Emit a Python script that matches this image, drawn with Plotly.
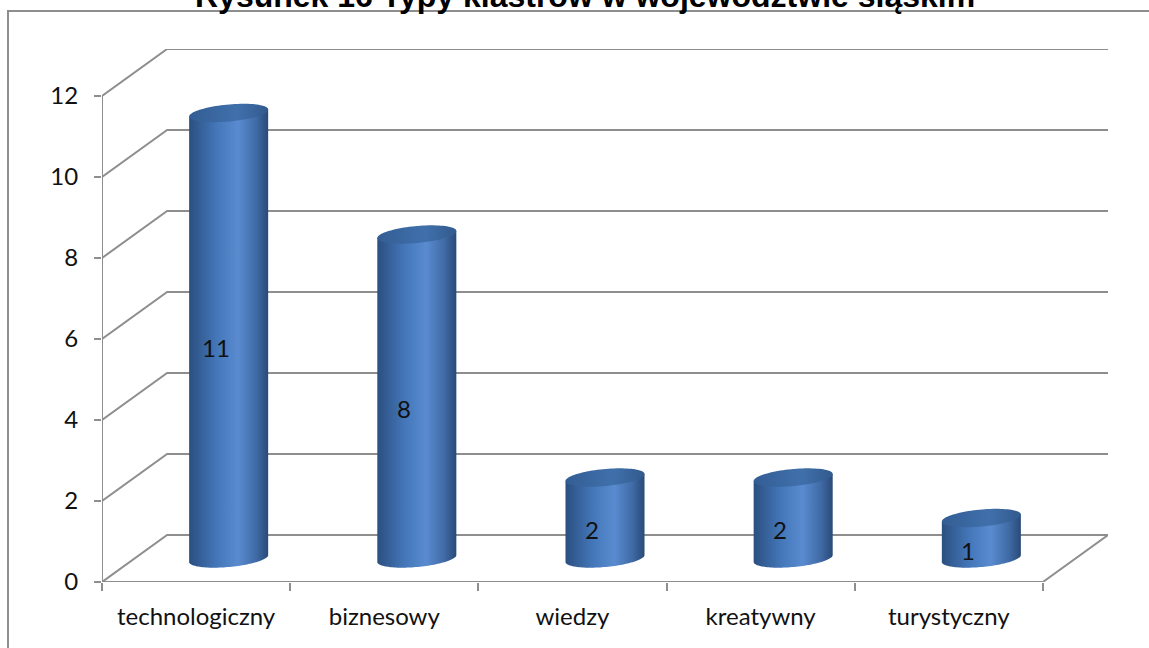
import numpy as np
import plotly.graph_objects as go

# --- chart data ---------------------------------------------------------
categories = ["technologiczny", "biznesowy", "wiedzy", "kreatywny", "turystyczny"]
counts = [11, 8, 2, 2, 1]
y_ticks = [0, 2, 4, 6, 8, 10, 12]
title_text = "Rysunek 16 Typy klastrów w województwie śląskim"

# --- pseudo-3D geometry (axis units) ------------------------------------
DEPTH_X = 0.346      # horizontal shift of the back wall (category units)
DEPTH_Y = 1.16       # vertical shift of the back wall (value units)
CYL_A = 0.21         # cylinder half width (category units)
CYL_B = 0.21         # ellipse vertical semi-axis (value units)
CYL_K = 0.086        # perspective shear of the ellipses (value units)

GRID = "#8e8e8e"
FONT = "Lato"
n = len(categories)
y_max = y_ticks[-1]

fig = go.Figure()
shapes = []

# back wall gridlines: short diagonal from the front axis, then horizontal
for v in y_ticks[1:]:
    shapes.append(dict(type="path", layer="below",
                       path=f"M 0,{v} L {DEPTH_X},{v + DEPTH_Y} L {n + DEPTH_X},{v + DEPTH_Y}",
                       line=dict(color=GRID, width=2)))

# floor outline
shapes.append(dict(type="path", layer="below",
                   path=f"M 0,0 L {DEPTH_X},{DEPTH_Y} L {n + DEPTH_X},{DEPTH_Y} L {n},0",
                   line=dict(color=GRID, width=2)))
# front axes
shapes.append(dict(type="line", layer="below", x0=0, y0=0, x1=n, y1=0,
                   line=dict(color=GRID, width=2)))
shapes.append(dict(type="line", layer="below", x0=0, y0=0, x1=0, y1=y_max,
                   line=dict(color=GRID, width=2)))

# outer chart frame (left and top edges visible)
shapes.append(dict(type="rect", xref="paper", yref="paper",
                   x0=(8 - 102) / 1006, x1=1.2, y0=-0.3, y1=(582 - 11) / 533,
                   line=dict(color=GRID, width=2), fillcolor="rgba(0,0,0,0)", layer="below"))


def ellipse(cx, cy, t):
    return cx + CYL_A * np.cos(t), cy + CYL_B * np.sin(t) + CYL_K * np.cos(t)


body_scale = [[0, "#2b4f80"], [0.35, "#4477ba"], [0.62, "#5a8bd0"], [0.85, "#3f6aa5"], [1, "#2a4a77"]]
top_scale = [[0, "#335d94"], [0.6, "#4070ab"], [1, "#325a8e"]]

annotations = []
for i, (cat, val) in enumerate(zip(categories, counts)):
    cx = i + 0.5 + DEPTH_X / 2
    base = DEPTH_Y / 2
    top = val + DEPTH_Y / 2

    # cylinder body: left side, lower arc of the base, right side
    t = np.linspace(np.pi, 2 * np.pi, 60)
    bx, by = ellipse(cx, base, t)
    xs = [cx - CYL_A] + list(bx) + [cx + CYL_A, cx - CYL_A]
    ys = [top - CYL_K] + list(by) + [top + CYL_K, top - CYL_K]
    fig.add_trace(go.Scatter(
        x=xs, y=ys, mode="none", fill="toself", hoverinfo="skip", showlegend=False,
        fillgradient=dict(type="horizontal", colorscale=body_scale,
                          start=cx - CYL_A, stop=cx + CYL_A)))

    # cylinder cap
    t = np.linspace(0, 2 * np.pi, 90)
    tx, ty = ellipse(cx, top, t)
    fig.add_trace(go.Scatter(
        x=list(tx), y=list(ty), mode="none", fill="toself", hoverinfo="skip", showlegend=False,
        fillgradient=dict(type="horizontal", colorscale=top_scale,
                          start=cx - CYL_A, stop=cx + CYL_A)))

    # value label
    annotations.append(dict(x=i + 0.5 + DEPTH_X * 0.3, y=val / 2 + DEPTH_Y * 0.25,
                            text=str(val), showarrow=False,
                            font=dict(family=FONT, size=24, color="#111111")))

annotations.append(dict(xref="paper", yref="paper", x=(585 - 102) / 1006, y=(582 - 16) / 533,
                        xanchor="center", yanchor="bottom", text=f"<b>{title_text}</b>",
                        showarrow=False,
                        font=dict(family="Liberation Sans", size=32, color="#000000")))

fig.update_layout(
    width=1149, height=648,
    margin=dict(l=102, r=41, t=49, b=66),
    paper_bgcolor="white", plot_bgcolor="white",
    shapes=shapes, annotations=annotations,
    xaxis=dict(range=[0, n + DEPTH_X], showgrid=False, zeroline=False, showline=False,
               tickmode="array", tickvals=[i + 0.5 for i in range(n)], ticktext=categories,
               ticks="", ticklabelstandoff=18,
               tickfont=dict(family=FONT, size=24, color="#111111"),
               minor=dict(tickmode="array", tickvals=list(range(n + 1)), ticks="outside",
                          ticklen=8, tickwidth=2, tickcolor=GRID, showgrid=False),
               fixedrange=True),
    yaxis=dict(range=[0, y_max + DEPTH_Y], showgrid=False, zeroline=False, showline=False,
               tickmode="array", tickvals=y_ticks, ticks="outside", ticklen=7,
               tickwidth=2, tickcolor=GRID, ticklabelstandoff=11,
               tickfont=dict(family=FONT, size=24, color="#111111"),
               fixedrange=True),
)

fig.write_html("out.html")
